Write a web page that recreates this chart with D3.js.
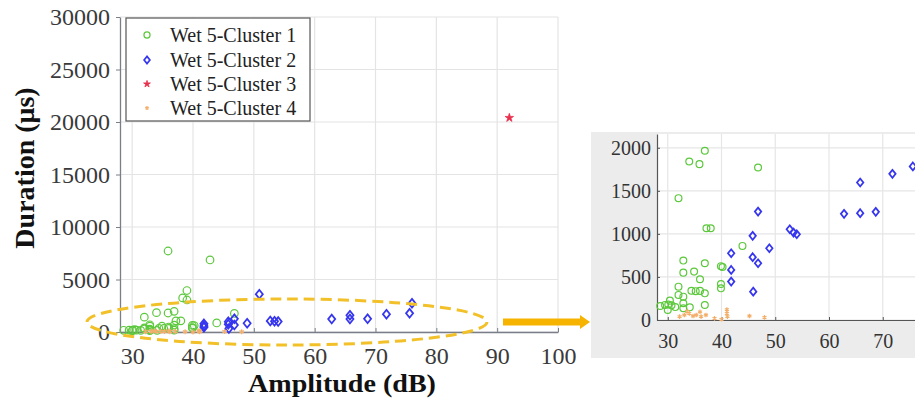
<!DOCTYPE html>
<html>
<head>
<meta charset="utf-8">
<script src="https://cdn.jsdelivr.net/npm/d3@7"></script>
<style>
  html, body { margin: 0; padding: 0; background: #fff; }
  svg { display: block; }
  text { font-family: "Liberation Serif", "Times New Roman", serif; }
</style>
</head>
<body>
<svg id="chart" width="915" height="398"></svg>
<script>
// ---------------- DATA ----------------
const seriesNames = ["Wet 5-Cluster 1", "Wet 5-Cluster 2", "Wet 5-Cluster 3", "Wet 5-Cluster 4"];

// [amplitude dB, duration µs]
const cluster1 = [
  [35.9, 7714], [42.8, 6860], [39.0, 3950], [38.3, 3250], [39.0, 3050],
  [36.9, 1965], [34.0, 1841], [35.9, 1810], [32.0, 1415], [46.8, 1771],
  [37.2, 1066], [38.0, 1066], [43.9, 860], [32.9, 690], [36.9, 659],
  [39.9, 625], [40.2, 615], [32.9, 550], [34.9, 562], [36.0, 473],
  [39.9, 418], [39.9, 368], [32.0, 387], [32.0, 291], [34.4, 340],
  [35.2, 335], [36.0, 338], [36.9, 310], [32.9, 271], [30.4, 225],
  [29.5, 175], [30.1, 180], [30.7, 170], [28.6, 163], [32.9, 194],
  [32.9, 136], [34.1, 147], [36.9, 174], [30.0, 116], [31.4, 150]
];
const cluster2 = [
  [50.9, 3600], [76.0, 2730],
  [45.8, 977], [48.9, 833], [41.8, 775], [45.8, 729], [46.8, 659],
  [41.8, 581], [41.8, 446], [45.9, 329], [46.8, 1259],
  [52.7, 1054], [53.4, 1015], [54.0, 996], [62.8, 1233], [65.8, 1240],
  [65.8, 1597], [68.7, 1256], [71.8, 1698], [75.6, 1783]
];
const cluster3 = [[92.0, 20400]];
const cluster4 = [
  [32.2, 39], [33.1, 58], [34.0, 77], [34.7, 46], [35.3, 58], [36.2, 39],
  [37.1, 58], [38.7, 19], [40.0, 8], [41.0, 77], [41.1, 39], [45.2, 46],
  [48.0, 31], [33.6, 100], [36.0, 95], [41.0, 120]
];

const mainXTicks = [30, 40, 50, 60, 70, 80, 90, 100];
const mainYTicks = [0, 5000, 10000, 15000, 20000, 25000, 30000];
const insetXTicks = [30, 40, 50, 60, 70];
const insetYTicks = [0, 500, 1000, 1500, 2000];

const xTitle = "Amplitude (dB)";
const yTitle = "Duration (μs)";

// ---------------- STYLE ----------------
const colors = ["#5cc83c", "#3636ee", "#e8304c", "#f3ae6a"];
const svg = d3.select("#chart");

function drawMarker(g, i, x, y, s) {
  const k = s || 1;
  if (i === 0) {
    g.append("circle").attr("cx", x).attr("cy", y).attr("r", 3.6 * k)
      .attr("fill", "none").attr("stroke", colors[0]).attr("stroke-width", 1.2);
  } else if (i === 1) {
    g.append("path").attr("transform", `translate(${x},${y}) scale(1.4,1)`)
      .attr("d", d3.symbol(d3.symbolDiamond, 20 * k * k)())
      .attr("fill", "none").attr("stroke", colors[1]).attr("stroke-width", 1.4);
  } else if (i === 2) {
    g.append("path").attr("transform", `translate(${x},${y})`)
      .attr("d", d3.symbol(d3.symbolStar, 20 * k * k)())
      .attr("fill", colors[2]).attr("stroke", colors[2]).attr("stroke-width", 0.8);
  } else {
    g.append("path").attr("transform", `translate(${x},${y})`)
      .attr("d", d3.symbol(d3.symbolAsterisk, 16 * k * k)())
      .attr("fill", "none").attr("stroke", colors[3]).attr("stroke-width", 1.2);
  }
}

const allSeries = [cluster1, cluster2, cluster3, cluster4];

// ---------------- MAIN CHART ----------------
const mx = d3.scaleLinear().domain([28, 100]).range([120, 558]);
const my = d3.scaleLinear().domain([0, 30000]).range([332, 17]);

// grid
const grid = svg.append("g");
grid.selectAll("line.gx").data(mainXTicks).join("line")
  .attr("x1", d => mx(d)).attr("x2", d => mx(d))
  .attr("y1", my.range()[0]).attr("y2", my.range()[1])
  .attr("stroke", "#e4e4e4").attr("stroke-width", 1.2);
grid.selectAll("line.gy").data(mainYTicks).join("line")
  .attr("x1", mx.range()[0]).attr("x2", mx.range()[1])
  .attr("y1", d => my(d)).attr("y2", d => my(d))
  .attr("stroke", "#e4e4e4").attr("stroke-width", 1.2);

// axes
const xAxis = svg.append("g").attr("transform", `translate(0,${my(0)})`)
  .call(d3.axisBottom(mx).tickValues(mainXTicks).tickFormat(d3.format("d")).tickSizeInner(-4).tickSizeOuter(0).tickPadding(15));
const yAxis = svg.append("g").attr("transform", `translate(${mx.range()[0]},0)`)
  .call(d3.axisLeft(my).tickValues(mainYTicks).tickFormat(d3.format("d")).tickSizeInner(4).tickSizeOuter(0).tickPadding(6));
[xAxis, yAxis].forEach(a => {
  a.select(".domain").attr("stroke", "#7a7e88").attr("stroke-width", 1.3);
  a.selectAll(".tick line").attr("stroke", "#7a7e88");
  a.selectAll(".tick text").attr("font-family", "Liberation Serif").attr("font-size", 24).attr("fill", "#3a3a3a");
});

// titles
svg.append("text").attr("transform", "translate(342,392) scale(1.08,1)").attr("text-anchor", "middle")
  .attr("font-size", 26).attr("font-weight", "bold").attr("fill", "#111").text(xTitle);
svg.append("text").attr("transform", "translate(34,168) rotate(-90)").attr("text-anchor", "middle")
  .attr("font-size", 28).attr("font-weight", "bold").attr("fill", "#111").text(yTitle);

// points
const mainPts = svg.append("g");
allSeries.forEach((ser, i) => {
  ser.forEach(d => drawMarker(mainPts, i, mx(d[0]), my(d[1]), 1.05));
});

// legend
const leg = svg.append("g");
leg.append("rect").attr("x", 126).attr("y", 18).attr("width", 184).attr("height", 103)
  .attr("fill", "#fff").attr("stroke", "#555").attr("stroke-width", 1.2);
const legRows = [35, 60, 84, 108];
seriesNames.forEach((name, i) => {
  drawMarker(leg, i, 147, legRows[i], 0.85);
  leg.append("text").attr("x", 170).attr("y", legRows[i]).attr("dy", "0.35em")
    .attr("font-size", 20).attr("fill", "#222").text(name);
});

// dashed ellipse highlighting the low-duration region
svg.append("ellipse").attr("cx", 287).attr("cy", 322).attr("rx", 200).attr("ry", 23)
  .attr("fill", "none").attr("stroke", "#f2c12a").attr("stroke-width", 3)
  .attr("stroke-dasharray", "11,6");

// arrow
svg.append("line").attr("x1", 503).attr("x2", 582).attr("y1", 322).attr("y2", 322)
  .attr("stroke", "#f6b400").attr("stroke-width", 7);
svg.append("path").attr("d", "M580,315 L590,322 L580,329 Z").attr("fill", "#f6b400");

// ---------------- INSET ----------------
const inset = svg.append("g");
inset.append("rect").attr("x", 591).attr("y", 132).attr("width", 330).attr("height", 226)
  .attr("fill", "#ececec");
const ix = d3.scaleLinear().domain([28, 76]).range([657, 915]);
const iy = d3.scaleLinear().domain([0, 2160]).range([320, 134]);
inset.append("rect").attr("x", ix.range()[0]).attr("y", iy.range()[1])
  .attr("width", ix.range()[1] - ix.range()[0]).attr("height", iy.range()[0] - iy.range()[1])
  .attr("fill", "#fff");
inset.selectAll("line.igx").data(insetXTicks).join("line")
  .attr("x1", d => ix(d)).attr("x2", d => ix(d))
  .attr("y1", iy.range()[0]).attr("y2", iy.range()[1])
  .attr("stroke", "#e6e6e6").attr("stroke-width", 1.2);
inset.selectAll("line.igy").data(insetYTicks).join("line")
  .attr("x1", ix.range()[0]).attr("x2", ix.range()[1])
  .attr("y1", d => iy(d)).attr("y2", d => iy(d))
  .attr("stroke", "#e6e6e6").attr("stroke-width", 1.2);

const ixAxis = inset.append("g").attr("transform", `translate(0,${iy(0)})`)
  .call(d3.axisBottom(ix).tickValues(insetXTicks).tickFormat(d3.format("d")).tickSizeInner(-3).tickSizeOuter(0).tickPadding(14));
const iyAxis = inset.append("g").attr("transform", `translate(${ix.range()[0]},0)`)
  .call(d3.axisLeft(iy).tickValues(insetYTicks).tickFormat(d3.format("d")).tickSizeInner(-3).tickSizeOuter(0).tickPadding(6));
[ixAxis, iyAxis].forEach(a => {
  a.select(".domain").attr("stroke", "#555").attr("stroke-width", 1.2);
  a.selectAll(".tick line").attr("stroke", "#555");
  a.selectAll(".tick text").attr("font-family", "Liberation Serif").attr("font-size", 20).attr("fill", "#333");
});

const clipId = "insetClip";
svg.append("defs").append("clipPath").attr("id", clipId).append("rect")
  .attr("x", ix.range()[0] - 6).attr("y", iy.range()[1])
  .attr("width", ix.range()[1] - ix.range()[0] + 6).attr("height", iy.range()[0] - iy.range()[1] + 4);
const insetPts = inset.append("g").attr("clip-path", `url(#${clipId})`);
allSeries.forEach((ser, i) => {
  ser.filter(d => d[1] <= 2160 && d[0] <= 76).forEach(d => drawMarker(insetPts, i, ix(d[0]), iy(d[1]), 0.95));
});
</script>
</body>
</html>
